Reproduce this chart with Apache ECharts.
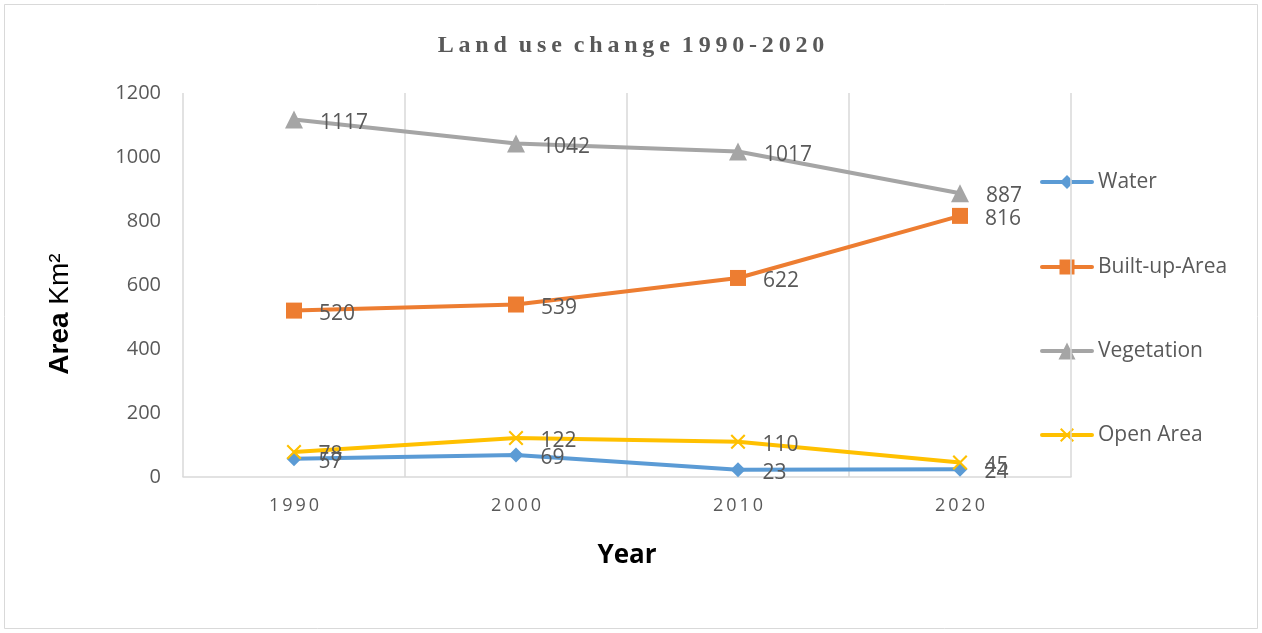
<!DOCTYPE html>
<html>
<head>
<meta charset="utf-8">
<script src="https://cdn.jsdelivr.net/npm/echarts@6/dist/echarts.min.js"></script>
<style>
  html, body { margin: 0; padding: 0; background: #fff; }
  #chart { width: 1262px; height: 633px; }
</style>
</head>
<body>
<div id="chart"></div>
<script>
// data
var years = ["1990", "2000", "2010", "2020"];
var water = [57, 69, 23, 24];
var builtUp = [520, 539, 622, 816];
var vegetation = [1117, 1042, 1017, 887];
var openArea = [78, 122, 110, 45];
var yTicks = { min: 0, max: 1200, interval: 200 };

var labelGray = "#595959";
var font = "Open Sans";

// marker outlines on a 10x10 box, used for the lines and the legend
var shapes = {
  diamond: [[5, 0], [10, 5], [5, 10], [0, 5]],
  square: [[0, 0], [10, 0], [10, 10], [0, 10]],
  triangle: [[5, 0], [10, 10], [0, 10]],
  cross: [[0, 1], [1, 0], [5, 4], [9, 0], [10, 1], [6, 5], [10, 9], [9, 10], [5, 6], [1, 10], [0, 9], [4, 5]],
};

function toPath(pts) {
  return "path://M" + pts.map(function (p) { return p[0] + "," + p[1]; }).join(" L") + " Z";
}

var seriesDefs = [
  { name: "Water", data: water, color: "#5B9BD5", shape: "diamond", size: 15 },
  { name: "Built-up-Area", data: builtUp, color: "#ED7D31", shape: "square", size: 16 },
  { name: "Vegetation", data: vegetation, color: "#A5A5A5", shape: "triangle", size: 18 },
  { name: "Open Area", data: openArea, color: "#FFC000", shape: "cross", size: 15 },
];

// spread letters like the original title
function spaced(s) {
  return s.split(" ").map(function (w) { return w.split("").join("\u2009"); }).join("\u2002");
}

function lineSeries(d) {
  return {
    name: d.name,
    type: "line",
    data: d.data,
    symbol: toPath(shapes[d.shape]),
    symbolSize: d.size,
    showAllSymbol: true,
    lineStyle: { color: d.color, width: 4 },
    itemStyle: { color: d.color },
    label: {
      show: true,
      position: "right",
      distance: 17,
      offset: [0, 3],
      color: labelGray,
      fontSize: 21,
      fontFamily: font,
    },
    emphasis: { disabled: true },
    z: 3,
  };
}

// hand-drawn legend: thick line, marker, name
var legendTop = [182, 267, 351, 435];
var legendGraphics = [];
seriesDefs.forEach(function (d, i) {
  var y = legendTop[i];
  var s = d.size - 1;
  legendGraphics.push({
    type: "line",
    shape: { x1: 1042, y1: y, x2: 1092, y2: y },
    style: { stroke: d.color, lineWidth: 4, lineCap: "round" },
    silent: true,
  });
  legendGraphics.push({
    type: "polygon",
    shape: {
      points: shapes[d.shape].map(function (p) {
        return [1067 - s / 2 + (p[0] * s) / 10, y - s / 2 + (p[1] * s) / 10];
      }),
    },
    style: { fill: d.color },
    silent: true,
  });
  legendGraphics.push({
    type: "text",
    x: 1098,
    y: y,
    style: { text: d.name, fill: labelGray, font: "21px 'Open Sans'", verticalAlign: "middle" },
    silent: true,
  });
});

var myChart = echarts.init(document.getElementById("chart"));
var option = {
  animation: false,
  backgroundColor: "#fff",
  title: {
    text: spaced("Land use change 1990-2020"),
    left: "center",
    top: 29,
    textStyle: {
      fontFamily: "Liberation Serif",
      fontWeight: "bold",
      fontSize: 24,
      color: labelGray,
    },
  },
  graphic: [
    {
      type: "rect",
      shape: { x: 4.5, y: 4.5, width: 1253, height: 624 },
      style: { fill: "none", stroke: "#d9d9d9", lineWidth: 1 },
      silent: true,
    },
    {
      type: "text",
      x: 60,
      y: 314,
      rotation: Math.PI / 2,
      style: {
        text: "{b|Area} Km²",
        align: "center",
        verticalAlign: "middle",
        fill: "#000",
        font: "28px 'Liberation Sans'",
        rich: { b: { fontFamily: "Liberation Sans", fontWeight: "bold", fontSize: 28, fill: "#000" } },
      },
      silent: true,
    },
  ].concat(legendGraphics),
  grid: { left: 183, right: 191, top: 93, bottom: 156 },
  xAxis: {
    type: "category",
    data: years,
    boundaryGap: true,
    name: "Year",
    nameLocation: "middle",
    nameGap: 66,
    nameTextStyle: {
      fontFamily: font,
      fontWeight: "bold",
      fontSize: 26,
      color: "#000",
    },
    axisLine: { lineStyle: { color: "#d9d9d9", width: 1.5 } },
    axisTick: { show: false },
    axisLabel: {
      color: labelGray,
      fontSize: 18,
      fontFamily: font,
      margin: 20,
      formatter: function (v) { return v.split("").join("\u2009"); },
    },
    splitLine: { show: true, lineStyle: { color: "#d9d9d9", width: 1.5 } },
  },
  yAxis: {
    type: "value",
    min: yTicks.min,
    max: yTicks.max,
    interval: yTicks.interval,
    axisLine: { show: false },
    axisTick: { show: false },
    axisLabel: {
      color: labelGray,
      fontSize: 20,
      fontFamily: font,
      margin: 22,
      formatter: function (v) { return String(v); },
    },
    splitLine: { show: false },
  },
  series: seriesDefs.map(lineSeries),
};
myChart.setOption(option);
</script>
</body>
</html>
